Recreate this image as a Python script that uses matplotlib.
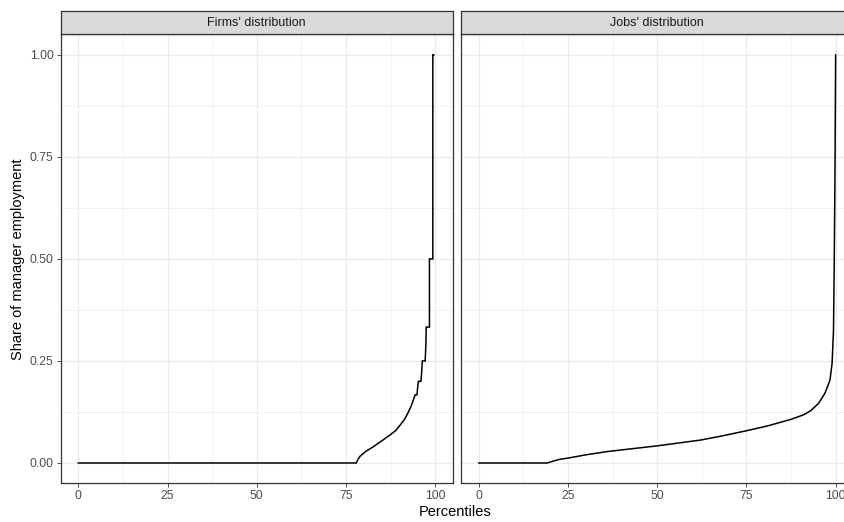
import matplotlib
matplotlib.use("Agg")
import matplotlib.pyplot as plt
from matplotlib.ticker import MultipleLocator

plt.rcParams['font.family'] = ['Liberation Sans', 'DejaVu Sans']

# values (percentile, share)
firms_pct = [0, 77.9, 78.3, 79.0, 80.5, 82.7, 85.0, 87.4, 89.0, 90.2, 91.5, 92.5,
             93.3, 93.9, 94.4, 94.9, 95.1, 95.3, 96.0, 96.2, 96.4, 97.2, 97.4,
             97.5, 98.4, 98.4, 99.35, 99.35, 99.6]
firms_share = [0, 0, 0.008, 0.017, 0.028, 0.040, 0.054, 0.069, 0.080, 0.093, 0.108,
               0.125, 0.140, 0.155, 0.167, 0.167, 0.185, 0.200, 0.200, 0.220, 0.250,
               0.250, 0.290, 0.333, 0.333, 0.500, 0.500, 1.0, 1.0]

jobs_pct = [0, 19.2, 21.0, 22.7, 25.0, 30.0, 36.0, 43.0, 50.0, 56.0, 62.0, 68.0,
            75.0, 81.0, 87.5, 91.0, 93.0, 95.2, 97.0, 98.4, 99.0, 99.4, 99.6,
            99.8, 100.0]
jobs_share = [0, 0, 0.005, 0.009, 0.012, 0.020, 0.028, 0.035, 0.042, 0.049, 0.056,
              0.066, 0.079, 0.091, 0.107, 0.118, 0.128, 0.146, 0.171, 0.203, 0.244,
              0.326, 0.490, 0.700, 1.0]

panels = [("Firms' distribution", firms_pct, firms_share),
          ("Jobs' distribution", jobs_pct, jobs_share)]

x_ticks = [0, 25, 50, 75, 100]
y_ticks = [0, 0.25, 0.5, 0.75, 1.0]
y_labels = ["0.00", "0.25", "0.50", "0.75", "1.00"]

W, H = 844, 522
fig = plt.figure(figsize=(W / 100, H / 100), dpi=100)

dark = "#333333"
panel_left = [60.5, 461.0]
panel_w = 392.5
top_px, bot_px = 34.4, 483.4
strip_top = 10.7

for i, (title, xs, ys) in enumerate(panels):
    l = panel_left[i] / W
    ax = fig.add_axes([l, 1 - bot_px / H, panel_w / W, (bot_px - top_px) / H])
    ax.plot(xs, ys, color="black", lw=1.1, solid_joinstyle="miter")
    ax.set_xlim(-5, 105)
    ax.set_ylim(-0.05, 1.05)
    ax.set_xticks(x_ticks)
    ax.set_xticklabels([str(t) for t in x_ticks])
    ax.set_yticks(y_ticks)
    ax.xaxis.set_minor_locator(MultipleLocator(12.5))
    ax.yaxis.set_minor_locator(MultipleLocator(0.125))
    ax.grid(which="major", color="#EBEBEB", lw=0.9)
    ax.grid(which="minor", color="#EBEBEB", lw=0.45)
    ax.set_axisbelow(True)
    ax.tick_params(which="minor", length=0)
    ax.tick_params(which="major", length=3, width=0.6, color=dark,
                   labelsize=8.8, labelcolor="#4D4D4D", pad=2)
    if i == 0:
        ax.set_yticklabels(y_labels)
        ax.set_ylabel("Share of manager employment", fontsize=10.5, labelpad=3)
    else:
        ax.tick_params(axis="y", left=False, labelleft=False)
    for s in ax.spines.values():
        s.set_color(dark)
        s.set_linewidth(0.9)

    sax = fig.add_axes([l, 1 - top_px / H, panel_w / W, (top_px - strip_top) / H])
    sax.set_facecolor("#D9D9D9")
    sax.set_xticks([])
    sax.set_yticks([])
    for s in sax.spines.values():
        s.set_color(dark)
        s.set_linewidth(0.9)
    sax.text(0.5, 0.5, title, ha="center", va="center", fontsize=9,
             color="#1A1A1A", transform=sax.transAxes)

fig.text(455 / W, 1 - 512 / H, "Percentiles", ha="center", va="center", fontsize=10.5)

fig.savefig("out.png", dpi=100)
